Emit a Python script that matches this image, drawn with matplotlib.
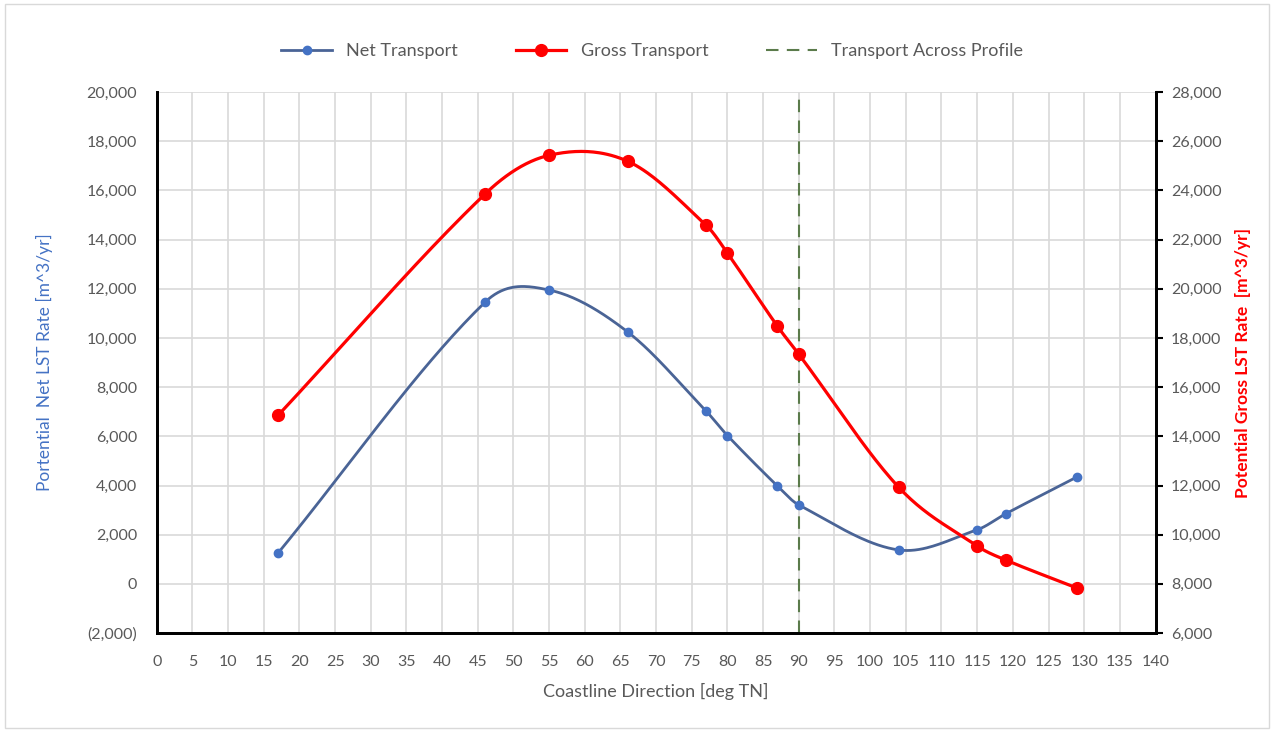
import numpy as np
import matplotlib
matplotlib.use("Agg")
import matplotlib.pyplot as plt
from matplotlib.ticker import FuncFormatter, MultipleLocator
from matplotlib.lines import Line2D
from matplotlib.patches import Rectangle

plt.rcParams['font.family'] = ['Lato', 'DejaVu Sans']

# coastline direction [deg TN]
direction = [17, 46, 55, 66, 77, 80, 87, 90, 104, 115, 119, 129]
# potential net LST rate [m^3/yr]
net_rate = [1250, 11450, 11950, 10250, 7030, 6030, 3980, 3210, 1380, 2200, 2850, 4350]
# potential gross LST rate [m^3/yr]
gross_rate = [14850, 23850, 25430, 25190, 22590, 21450, 18480, 17340, 11930, 9540, 8970, 7830]
profile_dir = 90


def smooth(xs, ys, n=40):
    # piecewise cubic hermite through the points, tangents from neighbours
    xs = np.asarray(xs, float)
    ys = np.asarray(ys, float)
    m = np.empty_like(ys)
    m[1:-1] = (ys[2:] - ys[:-2]) / (xs[2:] - xs[:-2])
    m[0] = (ys[1] - ys[0]) / (xs[1] - xs[0])
    m[-1] = (ys[-1] - ys[-2]) / (xs[-1] - xs[-2])
    ox, oy = [], []
    t = np.linspace(0, 1, n)
    for i in range(len(xs) - 1):
        h = xs[i + 1] - xs[i]
        h00 = 2 * t ** 3 - 3 * t ** 2 + 1
        h10 = t ** 3 - 2 * t ** 2 + t
        h01 = -2 * t ** 3 + 3 * t ** 2
        h11 = t ** 3 - t ** 2
        y = h00 * ys[i] + h10 * h * m[i] + h01 * ys[i + 1] + h11 * h * m[i + 1]
        ox.append(xs[i] + t * h)
        oy.append(y)
    return np.concatenate(ox), np.concatenate(oy)


def fmt_left(v, pos):
    if v < 0:
        return "({:,.0f})".format(-v)
    return "{:,.0f}".format(v)


fig = plt.figure(figsize=(12.74, 7.31), dpi=100)
fig.patches.append(Rectangle((0.004, 0.004), 0.992, 0.99, transform=fig.transFigure,
                             fill=False, edgecolor='#d9d9d9', lw=1))
ax = fig.add_axes([0.123, 0.134, 0.784, 0.740])
ax2 = ax.twinx()

grey = '#595959'
blue = '#4472c4'
red = '#ff0000'

ax.set_xlim(0, 140)
ax.set_ylim(-2000, 20000)
ax2.set_ylim(6000, 28000)
ax.xaxis.set_major_locator(MultipleLocator(5))
ax.yaxis.set_major_locator(MultipleLocator(2000))
ax2.yaxis.set_major_locator(MultipleLocator(2000))
ax.yaxis.set_major_formatter(FuncFormatter(fmt_left))
ax2.yaxis.set_major_formatter(FuncFormatter(lambda v, p: "{:,.0f}".format(v)))

ax.grid(True, color='#d9d9d9', lw=1.2)
ax.set_axisbelow(True)

for a in (ax, ax2):
    a.spines['top'].set_visible(False)
    for s in ('left', 'right', 'bottom'):
        a.spines[s].set_linewidth(2)
        a.spines[s].set_color('black')
ax.tick_params(axis='y', length=0, labelsize=11.5, labelcolor=grey, pad=14)
ax.tick_params(axis='x', length=0, labelsize=11.5, labelcolor=grey, pad=16)
ax2.tick_params(axis='y', length=5, width=1.5, labelsize=11.5, labelcolor=grey, pad=6)

# net transport on left axis
sx, sy = smooth(direction, net_rate)
ax.plot(sx, sy, color='#4a6496', lw=2, zorder=3)
ax.plot(direction, net_rate, 'o', color=blue, ms=6, zorder=4)

# gross transport on right axis
gx, gy = smooth(direction, gross_rate)
ax2.plot(gx, gy, color=red, lw=2.3, zorder=3)
ax2.plot(direction, gross_rate, 'o', color=red, ms=8.5, zorder=4)

ax.axvline(profile_dir, color='#5b7b4b', lw=1.5, ls=(0, (6, 4)), zorder=2)

ax.set_xlabel('Coastline Direction [deg TN]', fontsize=13, color=grey, labelpad=10)
ax.set_ylabel('Portential  Net LST Rate [m^3/yr]', fontsize=12.5, color=blue, labelpad=24)
ax2.set_ylabel('Potential Gross LST Rate  [m^3/yr]', fontsize=12.5, color=red,
               fontweight='bold', labelpad=10)

handles = [
    Line2D([], [], color='#4a6496', lw=2, marker='o', mfc=blue, mec=blue, ms=6),
    Line2D([], [], color=red, lw=2.3, marker='o', ms=8.5),
    Line2D([], [], color='#5b7b4b', lw=1.5, ls=(0, (6, 4))),
]
fig.legend(handles, ['Net Transport', 'Gross Transport', 'Transport Across Profile'],
           loc='center', bbox_to_anchor=(0.512, 0.93), ncol=3, frameon=False,
           fontsize=13, labelcolor=grey, handlelength=2.8, columnspacing=3.2)

fig.savefig('out.png', dpi=100)
